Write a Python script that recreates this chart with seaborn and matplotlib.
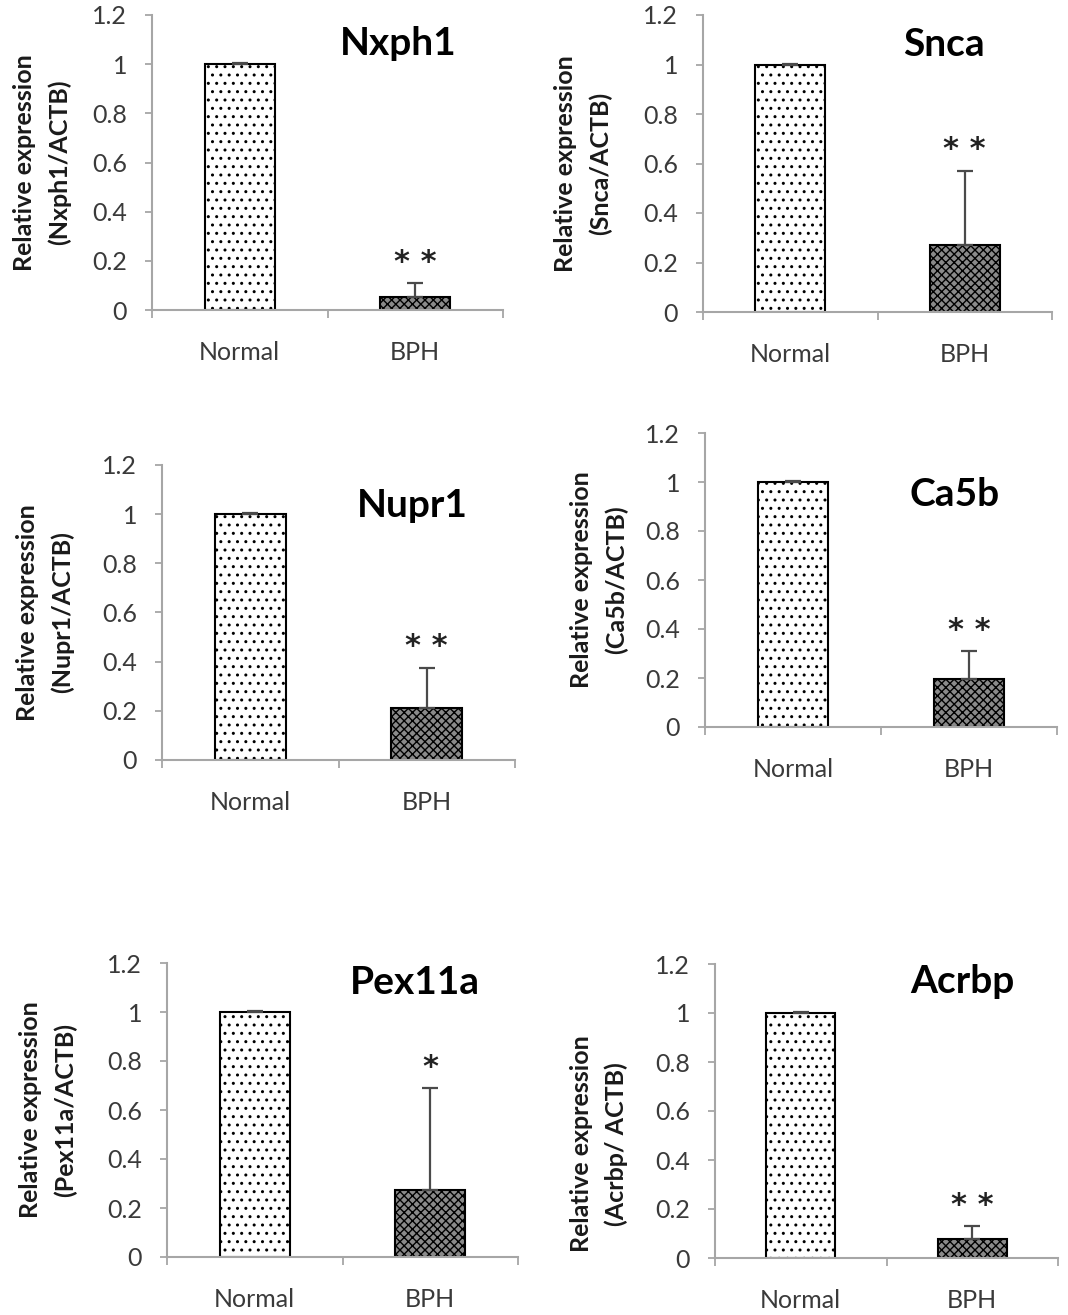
import matplotlib
matplotlib.use("Agg")
import matplotlib.pyplot as plt
import seaborn as sns
import pandas as pd

# values
genes = ["Nxph1", "Snca", "Nupr1", "Ca5b", "Pex11a", "Acrbp"]
ratio_labels = ["(Nxph1/ACTB)", "(Snca/ACTB)", "(Nupr1/ACTB)",
                "(Ca5b/ACTB)", "(Pex11a/ACTB)", "(Acrbp/ ACTB)"]
groups = ["Normal", "BPH"]
normal_mean = [1.0, 1.0, 1.0, 1.0, 1.0, 1.0]
normal_err = [0.004, 0.004, 0.004, 0.004, 0.004, 0.004]
bph_mean = [0.053, 0.27, 0.21, 0.195, 0.275, 0.078]
bph_err = [0.057, 0.30, 0.165, 0.115, 0.415, 0.052]
stars = ["* *", "* *", "* *", "* *", "*", "* *"]
yticks = [0, 0.2, 0.4, 0.6, 0.8, 1.0, 1.2]
ytick_labels = ["0", "0.2", "0.4", "0.6", "0.8", "1", "1.2"]

# layout (pixel boxes of each panel in the 1068x1315 image)
W, H = 1068, 1315
axes_px = [(152, 503, 15, 310), (703, 1052, 15, 312),
           (162, 515, 465, 760), (705, 1057, 433, 727),
           (167, 518, 963, 1257), (715, 1058, 964, 1258)]
title_pos = [(0.70, 0.905), (0.69, 0.90), (0.71, 0.864),
             (0.71, 0.79), (0.707, 0.935), (0.72, 0.94)]
ylabel_off = [110, 120, 117, 106, 119, 116]
ylabel_y = [0.5, 0.5, 0.5, 0.5, 0.5, 0.388]

sns.set_theme(style="white")
plt.rcParams["font.family"] = ["Lato", "DejaVu Sans"]
plt.rcParams["hatch.linewidth"] = 1.0

AXIS_GRAY = "#a6a6a6"
TEXT_GRAY = "#3a3a3a"

fig = plt.figure(figsize=(W / 100, H / 100), dpi=100)

for i, gene in enumerate(genes):
    x0, x1, ytop, ybot = axes_px[i]
    ax = fig.add_axes([x0 / W, 1 - ybot / H, (x1 - x0) / W, (ybot - ytop) / H])

    df = pd.DataFrame({"group": groups,
                       "value": [normal_mean[i], bph_mean[i]],
                       "err": [normal_err[i], bph_err[i]]})
    sns.barplot(data=df, x="group", y="value", hue="group",
                palette={"Normal": "white", "BPH": "#8a8a8a"},
                width=0.4, errorbar=None, legend=False, ax=ax,
                edgecolor="black", linewidth=1.5, zorder=2)
    for patch, hatch in zip(ax.patches, ["..", "xxxx"]):
        patch.set_hatch(hatch)

    ax.errorbar(df["group"], df["value"], yerr=[[0, 0], df["err"]],
                fmt="none", ecolor="#4a4a4a", elinewidth=1.6,
                capsize=5.5, capthick=1.6, zorder=3)

    # significance marks sit just above the BPH error bar
    top = bph_mean[i] + bph_err[i]
    ax.text(1, top + 0.085, stars[i], ha="center", va="center",
            fontsize=22, fontweight="bold", color="#222222",
            family="DejaVu Sans")

    ax.set_ylim(0, 1.2)
    ax.set_xlim(-0.5, 1.5)
    ax.set_yticks(yticks)
    ax.set_yticklabels(ytick_labels)
    ax.set_xticks([-0.5, 0.5, 1.5], minor=True)
    ax.tick_params(axis="y", which="major", direction="out", length=5,
                   width=1.3, color=AXIS_GRAY, labelsize=18,
                   labelcolor=TEXT_GRAY, pad=13, left=True)
    ax.tick_params(axis="x", which="major", length=0, labelsize=18,
                   labelcolor=TEXT_GRAY, pad=22)
    ax.tick_params(axis="x", which="minor", direction="out", length=5.5,
                   width=1.3, color=AXIS_GRAY, bottom=True)

    sns.despine(ax=ax)
    for side in ["left", "bottom"]:
        ax.spines[side].set_color(AXIS_GRAY)
        ax.spines[side].set_linewidth(1.5)

    ax.set_xlabel("")
    ax.set_ylabel("Relative expression\n" + ratio_labels[i],
                  fontsize=18, fontweight="bold", color="#1a1a1a",
                  linespacing=1.6, va="center")
    ax.yaxis.set_label_coords(-ylabel_off[i] / (x1 - x0), ylabel_y[i])

    tx, ty = title_pos[i]
    ax.text(tx, ty, gene, transform=ax.transAxes, ha="center", va="center",
            fontsize=28, fontweight="bold", color="black")

fig.savefig("out.png", dpi=100, facecolor="white")
plt.close(fig)
